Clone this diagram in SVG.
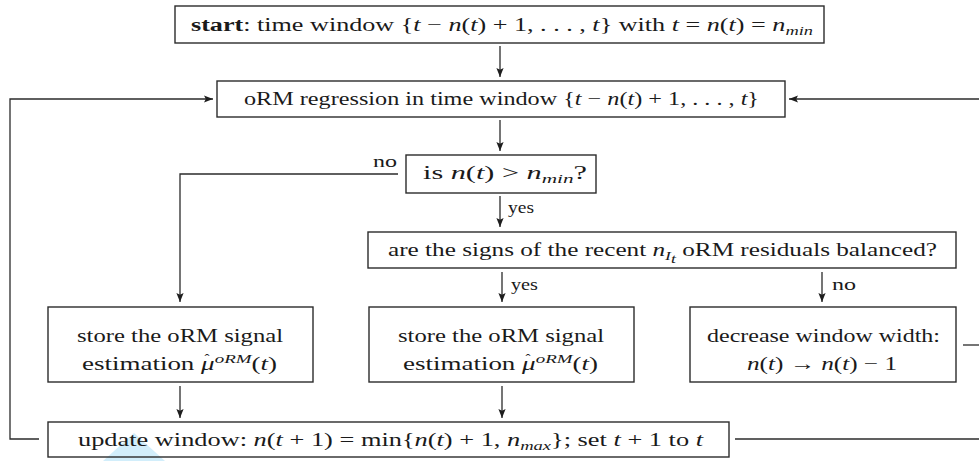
<svg xmlns="http://www.w3.org/2000/svg" width="979" height="461" viewBox="0 0 979 461">
  <defs>
    <marker id="arrow" viewBox="0 -4 10 8" refX="9" refY="0" markerWidth="10" markerHeight="8" markerUnits="userSpaceOnUse" orient="auto">
      <path d="M0,-3.6 L9,0 L0,3.6 L1.8,0 z" fill="#1e1e1e"/>
    </marker>
  </defs>
  <style>
    .box { fill: none; stroke: #2b2b2b; stroke-width: 1.4; }
    .edge { fill: none; stroke: #2b2b2b; stroke-width: 1.3; }
    .arr { marker-end: url(#arrow); }
    text { font-family: "Liberation Serif", "Times New Roman", serif; font-size: 18.5px; fill: #1a1a1a; }
    .i { font-style: italic; }
    .sub { font-style: italic; font-size: 13px; }
    .lbl { font-size: 17px; }
    .hat { font-size: 15px; text-anchor: middle; }
  </style>

  <rect width="979" height="461" fill="#ffffff"/>

  <!-- pale blue pointer shape near the bottom-left -->
  <polygon points="134,433 103,461 165,461" fill="#d2eefb"/>

  <!-- connectors -->
  <g id="connectors">
    <path class="edge arr" d="M500,46 V77"/>
    <path class="edge arr" d="M500,120 V151"/>
    <path class="edge arr" d="M500,196 V227"/>
    <path class="edge arr" d="M502,272 V302"/>
    <path class="edge arr" d="M822,272 V302"/>
    <path class="edge arr" d="M180,386 V418"/>
    <path class="edge arr" d="M502,386 V418"/>
    <path class="edge arr" d="M398,174 H180 V302"/>
    <path class="edge arr" d="M39,439 H10 V99 H213"/>
    <path class="edge arr" d="M979,99 H789"/>
    <path class="edge" d="M963,345 H979"/>
    <path class="edge" d="M735,439 H979"/>
    <text class="lbl" x="373" y="167" textLength="24" lengthAdjust="spacingAndGlyphs">no</text>
    <text class="lbl" x="508" y="213" textLength="26" lengthAdjust="spacingAndGlyphs">yes</text>
    <text class="lbl" x="511" y="290" textLength="27" lengthAdjust="spacingAndGlyphs">yes</text>
    <text class="lbl" x="832" y="290" textLength="24" lengthAdjust="spacingAndGlyphs">no</text>
  </g>

  <g id="start">
    <rect class="box" x="175" y="6" width="649" height="37"/>
    <text x="191" y="31" textLength="622" lengthAdjust="spacingAndGlyphs"><tspan font-weight="bold">start</tspan>: time window {<tspan class="i">t</tspan> − <tspan class="i">n</tspan>(<tspan class="i">t</tspan>) + 1, . . . , <tspan class="i">t</tspan>} with <tspan class="i">t</tspan> = <tspan class="i">n</tspan>(<tspan class="i">t</tspan>) = <tspan class="i">n</tspan><tspan class="sub" dy="4">min</tspan></text>
  </g>

  <g id="regression">
    <rect class="box" x="217" y="81" width="568" height="36"/>
    <text x="244" y="105" textLength="515" lengthAdjust="spacingAndGlyphs">oRM regression in time window {<tspan class="i">t</tspan> − <tspan class="i">n</tspan>(<tspan class="i">t</tspan>) + 1, . . . , <tspan class="i">t</tspan>}</text>
  </g>

  <g id="check-min">
    <rect class="box" x="406" y="155" width="190" height="38"/>
    <text x="423" y="179" textLength="164" lengthAdjust="spacingAndGlyphs">is <tspan class="i">n</tspan>(<tspan class="i">t</tspan>) &gt; <tspan class="i">n</tspan><tspan class="sub" dy="4">min</tspan><tspan dy="-4">?</tspan></text>
  </g>

  <g id="check-balance">
    <rect class="box" x="368" y="232" width="588" height="36"/>
    <text x="388" y="256" textLength="549" lengthAdjust="spacingAndGlyphs">are the signs of the recent <tspan class="i">n</tspan><tspan class="sub" dy="4">I</tspan><tspan class="sub" font-size="10" dy="3">t</tspan><tspan dy="-7"> oRM residuals balanced?</tspan></text>
  </g>

  <g id="store-left">
    <rect class="box" x="48" y="307" width="265" height="75"/>
    <text x="77" y="342" textLength="206" lengthAdjust="spacingAndGlyphs">store the oRM signal</text>
    <text x="82" y="370" textLength="195" lengthAdjust="spacingAndGlyphs">estimation <tspan class="i">μ</tspan><tspan class="sub" dy="-7">oRM</tspan><tspan dy="7">(</tspan><tspan class="i">t</tspan>)</text>
    <text class="hat" x="207" y="364">ˆ</text>
  </g>

  <g id="store-middle">
    <rect class="box" x="369" y="307" width="265" height="75"/>
    <text x="398" y="342" textLength="206" lengthAdjust="spacingAndGlyphs">store the oRM signal</text>
    <text x="403" y="370" textLength="195" lengthAdjust="spacingAndGlyphs">estimation <tspan class="i">μ</tspan><tspan class="sub" dy="-7">oRM</tspan><tspan dy="7">(</tspan><tspan class="i">t</tspan>)</text>
    <text class="hat" x="528" y="364">ˆ</text>
  </g>

  <g id="decrease">
    <rect class="box" x="690" y="307" width="266" height="75"/>
    <text x="707" y="342" textLength="233" lengthAdjust="spacingAndGlyphs">decrease window width:</text>
    <text x="747" y="370" textLength="150" lengthAdjust="spacingAndGlyphs"><tspan class="i">n</tspan>(<tspan class="i">t</tspan>) → <tspan class="i">n</tspan>(<tspan class="i">t</tspan>) − 1</text>
  </g>

  <g id="update">
    <rect class="box" x="48" y="422" width="681" height="35"/>
    <text x="78" y="446" textLength="625" lengthAdjust="spacingAndGlyphs">update window: <tspan class="i">n</tspan>(<tspan class="i">t</tspan> + 1) = min{<tspan class="i">n</tspan>(<tspan class="i">t</tspan>) + 1, <tspan class="i">n</tspan><tspan class="sub" dy="4">max</tspan><tspan dy="-4">}; set </tspan><tspan class="i">t</tspan> + 1 to <tspan class="i">t</tspan></text>
  </g>
</svg>
